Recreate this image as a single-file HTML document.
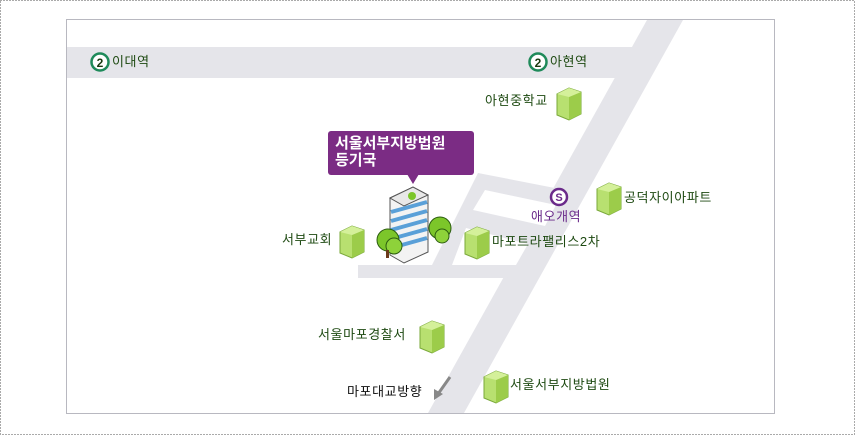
<!DOCTYPE html>
<html><head><meta charset="utf-8"><style>
html,body{margin:0;padding:0;background:#fff}
.wrap{position:relative;width:855px;height:435px;overflow:hidden;font-family:"Liberation Sans","Noto Sans CJK KR","NanumGothic",sans-serif}
.t{position:absolute;font-size:13px;color:#1e4a12;white-space:nowrap;line-height:14px;letter-spacing:0.6px}
</style></head><body><div class="wrap">
<svg width="855" height="435" style="position:absolute;left:0;top:0">
<rect x="0.5" y="0.5" width="854" height="434" fill="#fff" stroke="#555" stroke-dasharray="1,2"/>
<rect x="66.5" y="19.5" width="708" height="394" fill="#fff" stroke="#b8b8c0"/>
<g fill="#e5e5ea">
<polygon points="67,47 640,47 622,78 67,78"/>
<polygon points="647,20 683,20 464,413 428,413"/>
<polygon points="478,173 565,190 507,278 358,278 358,265 432,265"/>
</g>
<g fill="#fff">
<polygon points="485,190 556,205 545,226 473,210"/>
<polygon points="466,228 528,244 516,265 452,265"/>
</g>
<rect x="328" y="131" width="146" height="44" rx="3" fill="#7b2c84"/>
<polygon points="407,174 419,174 413,184" fill="#7b2c84"/>
<g>
<circle cx="440" cy="228" r="11" fill="#7cc62a" stroke="#2c5d10"/>
<circle cx="442" cy="236" r="7" fill="#8ed23a" stroke="#2c5d10"/>
<polygon points="390,198 413,187 428,195 428,252 404,263 390,255" fill="#f3f3f3" stroke="#555"/>
<polygon points="390,198 413,187 428,195 404,206" fill="#e8e8e8" stroke="#555"/>
<g stroke="#5aa0d8" stroke-width="4">
<line x1="391" y1="212" x2="427" y2="202"/><line x1="391" y1="221" x2="427" y2="211"/>
<line x1="391" y1="230" x2="427" y2="220"/><line x1="391" y1="239" x2="427" y2="229"/>
<line x1="391" y1="248" x2="427" y2="238"/></g>
<circle cx="412" cy="196" r="4" fill="#7cc62a"/>
<circle cx="388" cy="240" r="11" fill="#7cc62a" stroke="#2c5d10"/>
<circle cx="394" cy="246" r="8" fill="#8ed23a" stroke="#2c5d10"/>
<rect x="386" y="250" width="3" height="8" fill="#6b3a1a"/>
</g>
<defs><g id="bx">
<polygon points="0,6 12,0 24,4 24,26 12,32 0,27" fill="#b8e070" stroke="#7aa83a"/>
<polygon points="12,9 24,4 24,26 12,32" fill="#9ccc4a"/>
<polygon points="0,6 12,0 24,4 12,9" fill="#d4f09a"/>
</g></defs>
<use href="#bx" x="557" y="88"/><use href="#bx" x="340" y="226"/>
<use href="#bx" x="465" y="227"/><use href="#bx" x="597" y="183"/>
<use href="#bx" x="420" y="321"/><use href="#bx" x="484" y="371"/>
<circle cx="100" cy="62" r="8.5" fill="#fff" stroke="#1f8a5a" stroke-width="2.5"/>
<circle cx="538" cy="62" r="8.5" fill="#fff" stroke="#1f8a5a" stroke-width="2.5"/>
<circle cx="559" cy="197" r="8" fill="#fff" stroke="#6a2a8a" stroke-width="2.5"/>
<text x="100" y="67" font-size="12" font-weight="bold" text-anchor="middle" fill="#1a3a10" font-family="Liberation Sans">2</text>
<text x="538" y="67" font-size="12" font-weight="bold" text-anchor="middle" fill="#1a3a10" font-family="Liberation Sans">2</text>
<text x="559" y="201" font-size="11" font-weight="bold" text-anchor="middle" fill="#6a2a8a" font-family="Liberation Sans">S</text>
<line x1="450" y1="377" x2="438" y2="394" stroke="#888" stroke-width="3"/>
<polygon points="434,400 434,389 443,394" fill="#888"/>
</svg>
<div class="t" style="left:335px;top:135px;color:#fff;font-weight:bold;font-size:15px;line-height:17px;letter-spacing:0">서울서부지방법원<br>등기국</div>
<div class="t" style="left:112px;top:55px">이대역</div>
<div class="t" style="left:550px;top:55px">아현역</div>
<div class="t" style="left:485px;top:94px">아현중학교</div>
<div class="t" style="left:282px;top:233px">서부교회</div>
<div class="t" style="left:492px;top:235px">마포트라팰리스2차</div>
<div class="t" style="left:624px;top:191px">공덕자이아파트</div>
<div class="t" style="left:531px;top:210px;color:#6a2a8a">애오개역</div>
<div class="t" style="left:318px;top:328px">서울마포경찰서</div>
<div class="t" style="left:347px;top:385px;color:#111">마포대교방향</div>
<div class="t" style="left:510px;top:378px">서울서부지방법원</div>
</div></body></html>
